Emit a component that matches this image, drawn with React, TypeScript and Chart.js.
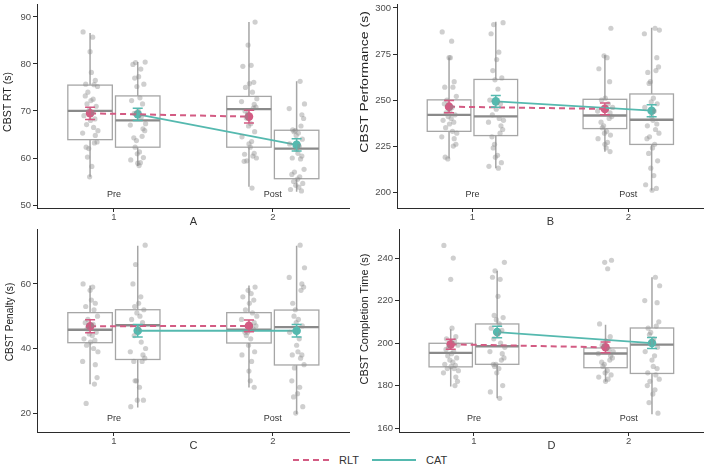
import React, { useEffect, useRef } from "react";
import { Chart, registerables } from "chart.js";

Chart.register(...registerables);

const FONT = "'Liberation Sans', Arial, Helvetica, sans-serif";
const RLT_COLOR = "#D35B83";
const CAT_COLOR = "#55B9AF";
const POINT_COLOR = "rgba(140,140,140,0.42)";
const BOX_COLOR = "#a6a6a6";
const MEDIAN_COLOR = "#8a8a8a";
const AXIS_COLOR = "#2b2b2b";
const TICK_TEXT = "#4d4d4d";

const seriesNames = ["RLT", "CAT"];
const phaseLabels = ["Pre", "Post"];
const phasePos = [1, 2];

// horizontal layout of the dodged groups (x-axis units)
const DODGE = 0.15;
const HALF_BOX = 0.14;
const JITTER_W = 0.055;
const JITTER = [
  -0.8, 0.3, 0.0, 0.15, 0.6, -0.5, 0.45, 0.85, -0.25, -0.55, 0.35, 0.1, -0.35, 0.7, -0.1, 0.25,
  -0.7, 0.55, 0.05, -0.4, 0.4, 0.9, -0.85, 0.6, 0.8, 0.5, -0.45, -0.15, -0.3, 0.2, -0.05, 0.65,
];

// ---- A: CBST RT ----
// box rows: [lower whisker, Q1, median, Q3, upper whisker] for Pre, Post
const rtTicks = [50, 60, 70, 80, 90];
const rtBoxRlt = [[56.0, 63.9, 70.0, 75.5, 86.6], [53.9, 62.3, 70.4, 73.1, 88.9]];
const rtBoxCat = [[58.3, 62.3, 68.0, 73.2, 80.4], [52.8, 55.6, 62.0, 65.9, 76.3]];
const rtMeanRlt = [69.5, 68.8];
const rtErrRlt = [1.3, 1.35];
const rtMeanCat = [69.3, 62.8];
const rtErrCat = [1.3, 1.3];
const rtPtsRltPre = [86.8, 85.7, 82.6, 78.2, 76.5, 75.7, 75.6, 75.2, 74.0, 73.2, 72.5, 72.2, 71.5, 71.0, 70.2, 69.6, 69.0, 68.3, 68.0, 67.1, 66.5, 65.8, 65.3, 64.8, 63.4, 63.2, 62.3, 62.0, 60.2, 58.2, 56.0];
const rtPtsCatPre = [80.4, 80.3, 79.9, 78.9, 77.3, 77.0, 75.7, 75.2, 72.8, 72.2, 71.5, 70.1, 69.5, 68.7, 67.3, 67.0, 66.2, 65.8, 64.6, 64.3, 63.7, 62.3, 61.3, 60.9, 60.1, 59.6, 59.0, 58.9, 58.4];
const rtPtsRltPost = [88.9, 84.0, 79.7, 79.5, 76.1, 75.8, 75.0, 74.0, 72.6, 72.0, 71.4, 70.8, 70.6, 70.0, 69.4, 68.5, 67.3, 66.8, 65.6, 64.5, 63.5, 63.0, 62.3, 61.0, 60.8, 60.4, 60.0, 59.4, 59.3, 53.6];
const rtPtsCatPost = [76.3, 71.5, 70.5, 69.2, 68.4, 66.8, 66.0, 65.8, 65.6, 65.3, 64.8, 64.0, 63.0, 62.5, 61.8, 61.0, 60.4, 60.0, 59.8, 57.6, 57.0, 56.5, 56.0, 55.5, 55.0, 54.6, 54.2, 53.8, 53.3, 53.0];

// ---- B: CBST Performance ----
const perfTicks = [200, 225, 250, 275, 300];
const perfBoxRlt = [[218.3, 233.0, 242.0, 250.1, 273.1], [221.9, 234.5, 241.6, 250.4, 274.5]];
const perfBoxCat = [[212.9, 230.7, 241.1, 261.2, 292.5], [200.9, 225.9, 239.3, 253.3, 289.2]];
const perfMeanRlt = [246.4, 245.2];
const perfErrRlt = [3.3, 3.15];
const perfMeanCat = [249.3, 244.2];
const perfErrCat = [3.15, 3.25];
const perfPtsRltPre = [287, 282, 273, 273, 260, 257, 257, 252, 250, 248, 246, 244, 243, 242, 241, 240, 239, 238, 237, 235, 233, 232, 230, 229, 226, 225, 219, 218];
const perfPtsCatPre = [292, 291, 286, 276, 272, 266, 262, 261, 256, 250, 248, 245, 242, 240, 239, 238, 236, 234, 232, 230, 226, 224, 220, 219, 216, 214, 213];
const perfPtsRltPost = [289, 274, 273, 267, 260, 251, 250, 248, 246, 244, 243, 241, 240, 238, 236, 235, 233, 232, 231, 229, 227, 226, 224, 222];
const perfPtsCatPost = [289, 288, 286, 273, 268, 266, 265, 260, 259, 251, 249, 248, 246, 244, 241, 239, 237, 236, 234, 232, 230, 229, 226, 224, 221, 217, 213, 209, 204, 202, 201];

// ---- C: CBST Penalty ----
const penTicks = [20, 40, 60];
const penBoxRlt = [[28.9, 41.8, 45.8, 51.1, 59.5], [27.9, 41.7, 45.8, 51.1, 59.5]];
const penBoxCat = [[21.7, 36.6, 47.2, 52.0, 71.8], [19.7, 34.9, 46.6, 51.9, 71.8]];
const penMeanRlt = [46.9, 47.0];
const penErrRlt = [2.0, 1.85];
const penMeanCat = [45.5, 45.5];
const penErrCat = [1.95, 1.95];
const penPtsRltPre = [60, 59, 58, 55, 54, 53, 52, 50, 49, 48, 47.5, 47, 46, 45, 44.5, 44, 43, 42.5, 42, 41, 40, 39, 36, 35, 31, 29, 23];
const penPtsCatPre = [72, 66, 60, 56, 54, 53, 52, 51, 50, 49, 48, 46, 44, 42, 40, 39, 38, 37, 36, 36, 30, 30, 28, 24, 24, 22];
const penPtsRltPost = [59, 58, 57, 56, 55, 54, 52, 51, 50, 49, 48, 47, 46, 45, 45, 44, 43, 41, 39, 38, 36, 33, 30, 28];
const penPtsCatPost = [72, 65, 62, 60, 59, 58, 54, 52, 50, 49, 48, 47, 45, 43, 41, 39, 38, 38, 37, 35, 34, 30, 28, 26, 25, 22, 20];

// ---- D: CBST Completion Time ----
const compTicks = [160, 180, 200, 220, 240];
const compBoxRlt = [[179.5, 188.8, 195.4, 199.9, 206.5], [181.8, 188.4, 195.1, 197.7, 208.6]];
const compBoxCat = [[174.0, 190.0, 198.5, 209.0, 234.1], [166.5, 185.7, 199.3, 207.1, 231.0]];
const compMeanRlt = [199.4, 198.0];
const compErrRlt = [2.35, 2.55];
const compMeanCat = [205.2, 200.0];
const compErrCat = [2.75, 2.6];
const compPtsRltPre = [246, 240, 230, 207, 203, 202, 201, 199, 198, 197, 196, 195, 194, 193, 192, 191, 190, 189.5, 189, 188, 188, 187, 186, 184, 182, 180];
const compPtsCatPre = [238, 234, 231, 230, 222, 213, 212, 211, 209, 207, 206, 204, 202, 200, 198, 196, 195, 193, 192, 190, 190, 189, 188, 186, 180, 177, 174];
const compPtsRltPost = [239, 238, 235, 209, 203, 201, 199, 197, 196, 195, 194, 193, 192, 191, 190, 189, 187, 186, 185, 184, 183, 182];
const compPtsCatPost = [231, 227, 220, 219, 210, 208, 207, 205, 204, 202, 200, 198, 196, 194, 192, 189, 188, 186, 185, 183, 182, 180, 178, 176, 172, 167];

type GroupStats = { box: number[][]; mean: number[]; err: number[]; pts: number[][] };
type PanelSpec = {
  letter: string;
  title: string;
  left: number;
  top: number;
  area: { left: number; right: number; top: number; bottom: number };
  yMin: number;
  yMax: number;
  yTicks: number[];
  titleX: number;
  titleY: number;
  titleSize: number;
  titleStretch: number;
  rlt: GroupStats;
  cat: GroupStats;
};

const PANEL_W = 354;
const PANEL_H = 225;
const X_MIN = 0.516;
const X_MAX = 2.484;

const panels: PanelSpec[] = [
  {
    letter: "A", title: "CBST RT (s)", left: 0, top: 0,
    area: { left: 37, right: 350, top: 3, bottom: 208 },
    yMin: 49.37, yMax: 92.68, yTicks: rtTicks,
    titleX: 8, titleY: 102, titleSize: 10.5, titleStretch: 1,
    rlt: { box: rtBoxRlt, mean: rtMeanRlt, err: rtErrRlt, pts: [rtPtsRltPre, rtPtsRltPost] },
    cat: { box: rtBoxCat, mean: rtMeanCat, err: rtErrCat, pts: [rtPtsCatPre, rtPtsCatPost] },
  },
  {
    letter: "B", title: "CBST Performance (s)", left: 354, top: 0,
    area: { left: 43, right: 350, top: 3, bottom: 208 },
    yMin: 191.37, yMax: 302.0, yTicks: perfTicks,
    titleX: 11, titleY: 82, titleSize: 10, titleStretch: 1.4,
    rlt: { box: perfBoxRlt, mean: perfMeanRlt, err: perfErrRlt, pts: [perfPtsRltPre, perfPtsRltPost] },
    cat: { box: perfBoxCat, mean: perfMeanCat, err: perfErrCat, pts: [perfPtsCatPre, perfPtsCatPost] },
  },
  {
    letter: "C", title: "CBST Penalty (s)", left: 0, top: 225,
    area: { left: 37, right: 350, top: 3, bottom: 207 },
    yMin: 14.15, yMax: 76.9, yTicks: penTicks,
    titleX: 10, titleY: 97, titleSize: 10.2, titleStretch: 1,
    rlt: { box: penBoxRlt, mean: penMeanRlt, err: penErrRlt, pts: [penPtsRltPre, penPtsRltPost] },
    cat: { box: penBoxCat, mean: penMeanCat, err: penErrCat, pts: [penPtsCatPre, penPtsCatPost] },
  },
  {
    letter: "D", title: "CBST Completion Time (s)", left: 354, top: 225,
    area: { left: 45, right: 350, top: 3, bottom: 207 },
    yMin: 158.13, yMax: 253.57, yTicks: compTicks,
    titleX: 11, titleY: 94, titleSize: 11, titleStretch: 1,
    rlt: { box: compBoxRlt, mean: compMeanRlt, err: compErrRlt, pts: [compPtsRltPre, compPtsRltPost] },
    cat: { box: compBoxCat, mean: compMeanCat, err: compErrCat, pts: [compPtsCatPre, compPtsCatPost] },
  },
];

function makeChart(canvas: HTMLCanvasElement, p: PanelSpec) {
  const groups = [
    { side: -1, color: RLT_COLOR, s: p.rlt },
    { side: 1, color: CAT_COLOR, s: p.cat },
  ];

  const jitterPts: { x: number; y: number }[] = [];
  groups.forEach((g, gi) =>
    g.s.pts.forEach((arr, pi) =>
      arr.forEach((y, i) => {
        const j = JITTER[(i + gi * 7 + pi * 13) % JITTER.length];
        jitterPts.push({ x: phasePos[pi] + g.side * DODGE + j * JITTER_W, y });
      })
    )
  );
  const meanData = (s: GroupStats, side: number) =>
    phasePos.map((x, i) => ({ x: x + side * DODGE, y: s.mean[i] }));

  const overlay = {
    id: "boxOverlay",
    beforeDatasetsDraw(chart: any) {
      const { ctx, scales } = chart;
      const xs = scales.x;
      const ys = scales.y;
      ctx.save();
      groups.forEach((g) =>
        g.s.box.forEach((b, i) => {
          const c = phasePos[i] + g.side * DODGE;
          const cx = xs.getPixelForValue(c);
          const x0 = xs.getPixelForValue(c - HALF_BOX);
          const x1 = xs.getPixelForValue(c + HALF_BOX);
          const [lo, q1, med, q3, hi] = b.map((v) => ys.getPixelForValue(v));
          ctx.strokeStyle = BOX_COLOR;
          ctx.lineWidth = 1.5;
          ctx.beginPath();
          ctx.moveTo(cx, hi);
          ctx.lineTo(cx, q3);
          ctx.moveTo(cx, q1);
          ctx.lineTo(cx, lo);
          ctx.stroke();
          ctx.lineWidth = 1.3;
          ctx.strokeRect(x0, q3, x1 - x0, q1 - q3);
          ctx.strokeStyle = MEDIAN_COLOR;
          ctx.lineWidth = 2.3;
          ctx.beginPath();
          ctx.moveTo(x0, med);
          ctx.lineTo(x1, med);
          ctx.stroke();
        })
      );
      ctx.restore();
    },
    afterDatasetsDraw(chart: any) {
      const { ctx, scales } = chart;
      const xs = scales.x;
      const ys = scales.y;
      ctx.save();
      groups.forEach((g) =>
        g.s.mean.forEach((m, i) => {
          const cx = xs.getPixelForValue(phasePos[i] + g.side * DODGE);
          const yt = ys.getPixelForValue(m + g.s.err[i]);
          const yb = ys.getPixelForValue(m - g.s.err[i]);
          ctx.strokeStyle = g.color;
          ctx.lineWidth = 1.5;
          ctx.beginPath();
          ctx.moveTo(cx, yt);
          ctx.lineTo(cx, yb);
          ctx.moveTo(cx - 5, yt);
          ctx.lineTo(cx + 5, yt);
          ctx.moveTo(cx - 5, yb);
          ctx.lineTo(cx + 5, yb);
          ctx.stroke();
        })
      );
      ctx.restore();
    },
    afterDraw(chart: any) {
      const { ctx, chartArea, scales } = chart;
      const xs = scales.x;
      ctx.save();
      // y-axis title
      ctx.fillStyle = "#222";
      ctx.font = `${p.titleSize}px ${FONT}`;
      ctx.textAlign = "center";
      ctx.textBaseline = "middle";
      ctx.translate(p.titleX, p.titleY);
      ctx.rotate(-Math.PI / 2);
      ctx.scale(p.titleStretch, 1);
      ctx.fillText(p.title, 0, 0);
      ctx.restore();

      ctx.save();
      ctx.fillStyle = "#333";
      ctx.textAlign = "center";
      ctx.textBaseline = "middle";
      ctx.font = `9px ${FONT}`;
      phaseLabels.forEach((lab, i) => {
        ctx.fillText(lab, xs.getPixelForValue(phasePos[i]), chartArea.bottom - 13.5);
      });
      ctx.font = `11px ${FONT}`;
      ctx.fillText(p.letter, (chartArea.left + chartArea.right) / 2, chartArea.bottom + 14);
      ctx.restore();
    },
  };

  const tickFont = { family: FONT, size: 9.5 };
  const grid = { drawOnChartArea: false, drawTicks: true, tickLength: 4, color: AXIS_COLOR, lineWidth: 1 };
  const border = { display: true, color: AXIS_COLOR, width: 1 };

  return new Chart(canvas, {
    type: "scatter",
    data: {
      datasets: [
        {
          label: "points",
          data: jitterPts,
          pointRadius: 2.6,
          pointBackgroundColor: POINT_COLOR,
          pointBorderWidth: 0,
        },
        {
          type: "line",
          label: seriesNames[0],
          data: meanData(p.rlt, -1),
          borderColor: RLT_COLOR,
          borderWidth: 2,
          borderDash: [6, 4],
          pointRadius: 0,
          fill: false,
        },
        {
          type: "line",
          label: seriesNames[1],
          data: meanData(p.cat, 1),
          borderColor: CAT_COLOR,
          borderWidth: 1.8,
          pointRadius: 0,
          fill: false,
        },
        {
          label: seriesNames[0] + " mean",
          data: meanData(p.rlt, -1),
          pointRadius: 4.3,
          pointBackgroundColor: RLT_COLOR,
          pointBorderWidth: 0,
        },
        {
          label: seriesNames[1] + " mean",
          data: meanData(p.cat, 1),
          pointRadius: 4.3,
          pointBackgroundColor: CAT_COLOR,
          pointBorderWidth: 0,
        },
      ] as any,
    },
    options: {
      animation: false,
      responsive: false,
      events: [],
      layout: {
        padding: { left: 0, top: p.area.top, right: PANEL_W - p.area.right, bottom: 0 },
      },
      plugins: { legend: { display: false }, tooltip: { enabled: false } },
      scales: {
        x: {
          type: "linear",
          min: X_MIN,
          max: X_MAX,
          afterBuildTicks: (s: any) => {
            s.ticks = phasePos.map((v) => ({ value: v }));
          },
          afterFit: (s: any) => {
            s.height = PANEL_H - p.area.bottom;
            s.paddingLeft = 0;
            s.paddingRight = 0;
          },
          ticks: { font: tickFont, color: TICK_TEXT, padding: 0, callback: (v: any) => String(v) },
          grid,
          border,
        },
        y: {
          type: "linear",
          min: p.yMin,
          max: p.yMax,
          afterBuildTicks: (s: any) => {
            s.ticks = p.yTicks.map((v) => ({ value: v }));
          },
          afterFit: (s: any) => {
            s.width = p.area.left;
            s.paddingTop = 0;
            s.paddingBottom = 0;
          },
          ticks: { font: tickFont, color: TICK_TEXT, padding: 2 },
          grid,
          border,
        },
      },
    } as any,
    plugins: [overlay],
  });
}

function Panel({ spec }: { spec: PanelSpec }) {
  const ref = useRef<HTMLCanvasElement | null>(null);
  useEffect(() => {
    if (!ref.current) return;
    const chart = makeChart(ref.current, spec);
    return () => chart.destroy();
  }, [spec]);
  return (
    <canvas
      ref={ref}
      width={PANEL_W}
      height={PANEL_H}
      style={{ position: "absolute", left: spec.left, top: spec.top, width: PANEL_W, height: PANEL_H }}
    />
  );
}

export default function App() {
  return (
    <div
      style={{
        position: "absolute",
        left: 0,
        top: 0,
        width: 708,
        height: 467,
        background: "#fff",
        overflow: "hidden",
      }}
    >
      {panels.map((p) => (
        <Panel key={p.letter} spec={p} />
      ))}
      <svg width={708} height={18} style={{ position: "absolute", left: 0, top: 451 }}>
        <line x1={293} y1={9} x2={330} y2={9} stroke={RLT_COLOR} strokeWidth={2} strokeDasharray="6 4" />
        <text x={339} y={13} fontFamily={FONT} fontSize={11} fill="#333">
          {seriesNames[0]}
        </text>
        <line x1={372} y1={9} x2={416} y2={9} stroke={CAT_COLOR} strokeWidth={2} />
        <text x={426} y={13} fontFamily={FONT} fontSize={11} fill="#333">
          {seriesNames[1]}
        </text>
      </svg>
    </div>
  );
}
